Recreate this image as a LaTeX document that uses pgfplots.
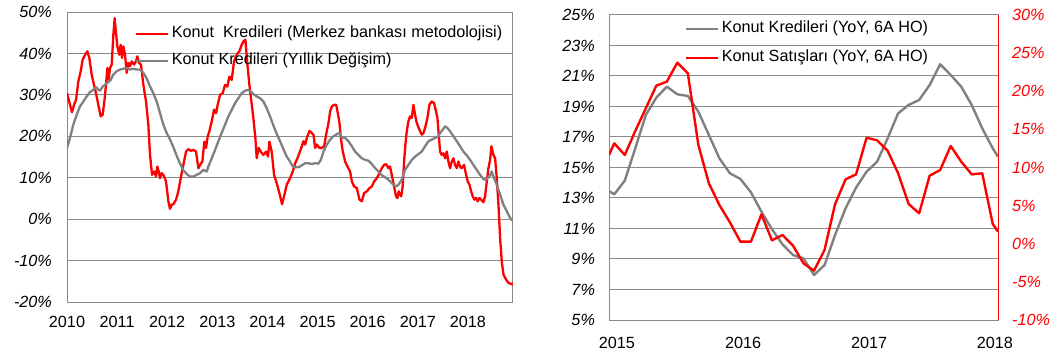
\documentclass[border=0pt]{standalone}
\usepackage{pgfplots}
\pgfplotsset{compat=1.18}
\usepackage{fontspec}
\setmainfont{Liberation Sans}
\definecolor{gridgray}{RGB}{138,138,138}
\definecolor{sergray}{RGB}{128,128,128}
\definecolor{axred}{RGB}{255,0,0}
\begin{document}
\fontsize{16.2bp}{19bp}\selectfont
\begin{tikzpicture}
\useasboundingbox (0,0) rectangle (1051bp,355bp);
\pgfplotsset{
  common/.style={
    scale only axis,
    anchor=south west,
    major tick length=0pt,
    ymajorgrids,
    grid style={color=gridgray, line width=1bp},
    axis line style={color=gridgray, line width=1bp},
    tick label style={black},
    legend cell align=left,
    legend image code/.code={\draw[##1] (0bp,0bp) -- (32bp,0bp);},
  },
}
% ---------------- LEFT CHART ----------------
\begin{axis}[common,
  at={(67bp,53bp)}, width=446bp, height=290bp,
  xmin=2010, xmax=2018.9, ymin=-20, ymax=50,
  xtick={2010,2011,2012,2013,2014,2015,2016,2017,2018},
  xticklabels={2010,2011,2012,2013,2014,2015,2016,2017,2018},
  ytick={-20,-10,0,10,20,30,40,50},
  yticklabels={-20\%,-10\%,0\%,10\%,20\%,30\%,40\%,50\%},
  yticklabel style={font=\itshape, xshift=-9.5bp},
  xticklabel style={yshift=-8.5bp},
  legend style={at={(0.1525,0.951)}, anchor=north west, draw=none, fill=none,
    inner sep=0pt, outer sep=0pt, row sep=12bp, column sep=2.5bp,
    nodes={inner sep=0pt, text height=11.5bp, text depth=3.5bp}},
]
\addplot[axred, line width=2.3bp, line join=round] coordinates {
(2010.000,30.4) (2010.060,27.6) (2010.100,25.8) (2010.140,27.6) (2010.180,28.8)
(2010.226,33.2) (2010.273,35.7) (2010.313,38.5) (2010.366,39.8) (2010.406,40.5)
(2010.446,38.9) (2010.492,34.9) (2010.539,32.4) (2010.579,30.4) (2010.625,27.6)
(2010.672,24.8) (2010.712,25.2) (2010.745,28.4) (2010.778,32.4) (2010.805,36.5)
(2010.832,33.6) (2010.858,36.5) (2010.892,37.3) (2010.925,44.5) (2010.951,48.5)
(2010.978,44.9) (2011.005,41.7) (2011.045,39.7) (2011.071,42.1) (2011.098,38.9)
(2011.124,41.7) (2011.158,39.7) (2011.191,35.3) (2011.224,37.7) (2011.258,36.9)
(2011.291,38.1) (2011.337,37.3) (2011.377,38.1) (2011.404,39.3) (2011.437,37.7)
(2011.477,37.3) (2011.524,32.4) (2011.577,28.4) (2011.623,22.8) (2011.657,15.5)
(2011.697,10.7) (2011.743,11.5) (2011.776,10.3) (2011.803,12.7) (2011.830,11.5)
(2011.856,9.9) (2011.890,11.1) (2011.923,10.7) (2011.976,9.1) (2012.023,4.3)
(2012.056,2.5) (2012.089,3.5) (2012.122,3.6) (2012.176,4.7) (2012.222,6.7)
(2012.269,9.9) (2012.322,13.1) (2012.375,16.3) (2012.422,16.9) (2012.468,16.5)
(2012.522,16.7) (2012.575,16.3) (2012.622,12.3) (2012.655,13.1) (2012.701,13.9)
(2012.741,18.7) (2012.775,17.2) (2012.808,20.0) (2012.841,21.2) (2012.888,23.6)
(2012.934,26.4) (2012.974,25.6) (2013.007,27.6) (2013.054,30.0) (2013.107,30.4)
(2013.154,32.4) (2013.200,32.0) (2013.240,34.4) (2013.287,33.6) (2013.333,38.1)
(2013.387,39.7) (2013.440,40.5) (2013.487,42.1) (2013.520,42.9) (2013.560,43.3)
(2013.600,37.3) (2013.640,32.4) (2013.680,28.4) (2013.719,24.4) (2013.759,19.6)
(2013.786,14.7) (2013.826,17.2) (2013.866,16.3) (2013.919,15.5) (2013.972,16.3)
(2014.012,15.1) (2014.039,18.7) (2014.085,16.3) (2014.132,10.7) (2014.185,8.7)
(2014.238,6.3) (2014.292,3.6) (2014.331,5.5) (2014.385,8.3) (2014.451,9.9)
(2014.506,11.5) (2014.553,13.5) (2014.599,14.7) (2014.639,16.0) (2014.686,17.6)
(2014.719,18.8) (2014.752,18.0) (2014.786,19.6) (2014.839,21.3) (2014.885,20.8)
(2014.919,20.4) (2014.952,17.2) (2014.985,18.0) (2015.038,17.2) (2015.085,17.2)
(2015.131,17.6) (2015.171,20.4) (2015.218,23.2) (2015.251,26.0) (2015.285,27.2)
(2015.331,27.6) (2015.371,27.6) (2015.398,26.0) (2015.438,23.2) (2015.464,19.6)
(2015.504,16.3) (2015.551,13.9) (2015.597,12.7) (2015.650,11.5) (2015.684,9.1)
(2015.730,7.9) (2015.783,7.5) (2015.837,4.7) (2015.883,4.3) (2015.930,6.3)
(2015.983,6.7) (2016.036,7.5) (2016.083,7.9) (2016.129,9.1) (2016.183,9.9)
(2016.236,11.1) (2016.282,12.3) (2016.329,13.1) (2016.369,13.3) (2016.415,12.3)
(2016.447,12.7) (2016.527,7.9) (2016.567,5.5) (2016.593,5.1) (2016.620,6.7)
(2016.647,6.0) (2016.667,5.5) (2016.687,6.7) (2016.700,8.3) (2016.727,13.9)
(2016.753,18.0) (2016.780,21.2) (2016.813,23.6) (2016.846,24.8) (2016.880,24.4)
(2016.913,27.6) (2016.946,25.2) (2016.980,23.2) (2017.033,21.6) (2017.079,20.4)
(2017.113,20.8) (2017.146,22.0) (2017.192,24.4) (2017.232,27.6) (2017.279,28.4)
(2017.325,28.0) (2017.365,26.0) (2017.392,24.4) (2017.418,20.4) (2017.445,16.3)
(2017.478,15.5) (2017.512,15.9) (2017.545,14.7) (2017.578,16.3) (2017.611,13.9)
(2017.645,12.3) (2017.678,13.9) (2017.711,14.7) (2017.744,13.1) (2017.778,12.3)
(2017.811,13.9) (2017.844,12.7) (2017.877,12.3) (2017.924,13.1) (2017.964,10.7)
(2017.997,9.1) (2018.031,8.3) (2018.064,6.7) (2018.097,5.5) (2018.130,4.7)
(2018.164,5.1) (2018.197,4.3) (2018.230,5.1) (2018.264,4.7) (2018.310,4.1)
(2018.343,5.5) (2018.377,9.1) (2018.410,12.3) (2018.443,14.3) (2018.470,17.6)
(2018.510,15.5) (2018.543,14.7) (2018.576,9.9) (2018.610,3.5) (2018.643,-4.6)
(2018.676,-10.2) (2018.710,-13.4) (2018.763,-14.6) (2018.810,-15.4) (2018.856,-15.6)
(2018.902,-15.8)
};
\addlegendentry{Konut~ Kredileri (Merkez bankası metodolojisi)}
\addplot[sergray, line width=2.3bp, line join=round] coordinates {
(2010.000,17.2) (2010.060,19.6) (2010.126,22.8) (2010.193,25.2) (2010.259,27.2)
(2010.326,28.4) (2010.393,29.6) (2010.459,30.7) (2010.526,31.2) (2010.592,31.8)
(2010.625,31.2) (2010.659,31.0) (2010.712,32.0) (2010.758,32.4) (2010.825,33.1)
(2010.872,33.6) (2010.925,34.9) (2010.991,35.7) (2011.058,36.1) (2011.124,36.3)
(2011.191,36.5) (2011.258,36.1) (2011.324,36.3) (2011.391,36.1) (2011.457,36.1)
(2011.524,35.3) (2011.590,34.0) (2011.657,32.0) (2011.723,30.4) (2011.790,28.4)
(2011.856,25.6) (2011.923,22.8) (2011.989,20.8) (2012.056,19.2) (2012.122,17.4)
(2012.189,15.3) (2012.256,13.4) (2012.322,11.8) (2012.389,10.9) (2012.455,10.3)
(2012.522,10.3) (2012.588,10.7) (2012.655,11.1) (2012.721,11.9) (2012.788,11.5)
(2012.821,12.7) (2012.888,14.7) (2012.954,16.7) (2013.021,18.8) (2013.087,20.8)
(2013.154,22.8) (2013.220,24.8) (2013.287,26.4) (2013.353,28.0) (2013.420,29.2)
(2013.487,30.4) (2013.553,31.0) (2013.620,31.2) (2013.666,30.8) (2013.719,30.2)
(2013.786,29.6) (2013.852,29.2) (2013.919,28.4) (2013.985,26.8) (2014.052,24.8)
(2014.119,22.6) (2014.185,20.6) (2014.252,18.8) (2014.318,16.9) (2014.385,15.1)
(2014.451,13.9) (2014.506,12.7) (2014.553,12.6) (2014.619,12.5) (2014.686,13.0)
(2014.752,13.5) (2014.819,13.5) (2014.885,13.3) (2014.952,13.5) (2015.018,13.4)
(2015.065,14.3) (2015.118,16.3) (2015.185,18.0) (2015.251,19.2) (2015.318,20.0)
(2015.384,20.5) (2015.437,20.8) (2015.484,19.7) (2015.551,19.6) (2015.617,18.8)
(2015.684,17.6) (2015.750,16.3) (2015.817,15.5) (2015.883,14.7) (2015.950,14.3)
(2016.016,14.1) (2016.083,13.3) (2016.149,12.3) (2016.216,11.5) (2016.282,10.6)
(2016.349,10.1) (2016.415,9.5) (2016.447,9.1) (2016.514,8.3) (2016.567,7.9)
(2016.613,8.3) (2016.680,9.5) (2016.746,11.9) (2016.813,13.1) (2016.880,14.3)
(2016.946,15.1) (2017.013,15.7) (2017.079,16.3) (2017.146,17.6) (2017.212,18.8)
(2017.279,19.2) (2017.345,19.6) (2017.412,20.0) (2017.445,20.8) (2017.498,21.6)
(2017.545,22.4) (2017.591,22.0) (2017.645,21.2) (2017.711,20.0) (2017.778,18.8)
(2017.844,17.6) (2017.911,16.3) (2017.977,15.4) (2018.044,14.3) (2018.110,13.1)
(2018.177,11.9) (2018.243,10.7) (2018.310,9.7) (2018.343,9.5) (2018.377,9.7)
(2018.443,10.6) (2018.476,11.5) (2018.510,10.3) (2018.576,8.3) (2018.643,5.9)
(2018.709,3.5) (2018.776,1.9) (2018.842,0.3) (2018.902,-0.5)
};
\addlegendentry{Konut Kredileri (Yıllık Değişim)}
\end{axis}
% ---------------- RIGHT CHART (left y axis) ----------------
\begin{axis}[common,
  at={(609bp,35bp)}, width=389bp, height=305bp,
  xmin=-0.5, xmax=36.5, ymin=5, ymax=25,
  xtick={0.26,12.25,24.24,36.2},
  xticklabels={2015,2016,2017,2018},
  ytick={5,7,9,11,13,15,17,19,21,23,25},
  yticklabels={5\%,7\%,9\%,11\%,13\%,15\%,17\%,19\%,21\%,23\%,25\%},
  yticklabel style={font=\itshape, xshift=-8.5bp},
  xticklabel style={yshift=-12bp},
]
\addplot[sergray, line width=2.4bp, line join=round] coordinates {
(-0.5,13.46) (0,13.24) (1,14.14) (2,16.26) (3,18.44) (4,19.58) (5,20.3) (6,19.8)
(7,19.69) (8,18.66) (9,17.13) (10,15.6) (11,14.62) (12,14.25) (13,13.37) (14,12.1)
(15,10.95) (16,9.96) (17,9.26) (18,9.04) (19,7.95) (20,8.6) (21,10.57) (22,12.32)
(23,13.68) (24,14.73) (25,15.38) (26,16.91) (27,18.55) (28,19.1) (29,19.43)
(30,20.41) (31,21.77) (32,21.07) (33,20.3) (34,19.1) (35,17.57) (36,16.26) (36.5,15.71)
};
\end{axis}
% ---------------- RIGHT CHART (right y axis) ----------------
\begin{axis}[common,
  at={(609bp,35bp)}, width=389bp, height=305bp,
  xmin=-0.5, xmax=36.5, ymin=-10, ymax=30,
  ymajorgrids=false,
  hide x axis,
  axis y line*=right,
  y axis line style={color=axred, line width=1bp},
  ytick={-10,-5,0,5,10,15,20,25,30},
  yticklabels={-10\%,-5\%,0\%,5\%,10\%,15\%,20\%,25\%,30\%},
  yticklabel style={font=\itshape, color=axred, xshift=8.5bp},
  legend style={at={(0.1954,0.979)}, anchor=north west, draw=none, fill=none,
    inner sep=0pt, outer sep=0pt, row sep=14bp, column sep=2.5bp,
    nodes={inner sep=0pt, text height=11.5bp, text depth=3.5bp}},
]
\addlegendimage{sergray, line width=2.4bp}
\addlegendentry{Konut Kredileri (YoY, 6A HO)}
\addplot[axred, line width=2.4bp, line join=round] coordinates {
(-0.5,11.64) (0,13.17) (1,11.64) (2,14.79) (3,17.76) (4,20.73) (5,21.26) (6,23.75)
(7,22.35) (8,12.95) (9,7.92) (10,5.08) (11,2.81) (12,0.27) (13,0.27) (14,3.86)
(15,0.45) (16,1.15) (17,-0.25) (18,-2.57) (19,-3.53) (20,-0.82) (21,5.17) (22,8.45)
(23,9.1) (24,13.91) (25,13.56) (26,12.2) (27,9.24) (28,5.21) (29,3.99) (30,8.93)
(31,9.67) (32,12.82) (33,10.77) (34,9.1) (35,9.24) (36,2.59) (36.5,1.58)
};
\addlegendentry{Konut Satışları (YoY, 6A HO)}
\end{axis}
\end{tikzpicture}
\end{document}
